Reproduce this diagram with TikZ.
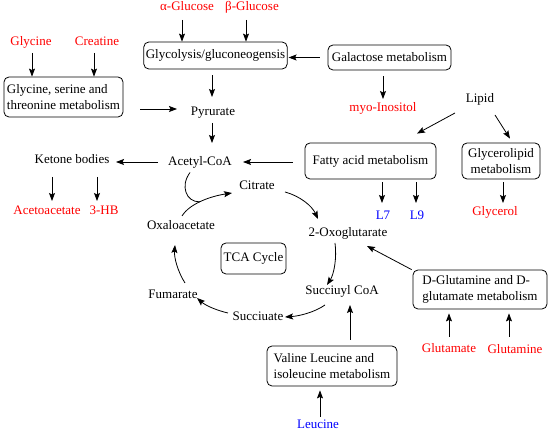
\documentclass[tikz,border=0pt]{standalone}
\usepackage{fontspec}
\setmainfont{Liberation Serif}
\usetikzlibrary{arrows.meta}
\definecolor{tred}{RGB}{255,0,0}
\definecolor{tblue}{RGB}{0,0,255}
\tikzset{
 arr/.style={-{Stealth[length=8pt,width=6pt,inset=1.5pt]},line width=0.8pt},
 lbl/.style={inner sep=0pt,text height=9pt,text depth=3pt,font=\fontsize{13}{15.5}\selectfont},
 redlbl/.style={lbl,text=tred},
 bluelbl/.style={lbl,text=tblue},
 pbox/.style={draw,line width=0.8pt,rounded corners=5pt,inner sep=2pt,font=\fontsize{13}{15.5}\selectfont},
}
\begin{document}
\begin{tikzpicture}[x=1pt,y=-1pt]
\useasboundingbox (0,0) rectangle (550,435);
% labels
\node[redlbl] (aglu) at (187,8) {α-Glucose};
\node[redlbl] (bglu) at (252,8) {β-Glucose};
\node[redlbl] (glyc) at (31,43) {Glycine};
\node[redlbl] (crea) at (97,43) {Creatine};
\node[lbl] (pyr) at (213,113) {Pyrurate};
\node[redlbl] (myo) at (383,109) {myo-Inositol};
\node[lbl] (lipid) at (480,100) {Lipid};
\node[lbl] (acoa) at (200,162.5) {Acetyl-CoA};
\node[lbl] (ketone) at (72,161) {Ketone bodies};
\node[redlbl] (aceto) at (47,212) {Acetoacetate};
\node[redlbl] (hb) at (104,212) {3-HB};
\node[bluelbl] (L7) at (383,217) {L7};
\node[bluelbl] (L9) at (417,217) {L9};
\node[redlbl] (glycerol) at (495,213) {Glycerol};
\node[lbl] (citrate) at (257,187) {Citrate};
\node[lbl] (oxo) at (348,234) {2-Oxoglutarate};
\node[lbl] (oxa) at (181,227) {Oxaloacetate};
\node[lbl] (fum) at (173,296) {Fumarate};
\node[lbl] (suca) at (342,292) {Succiuyl CoA};
\node[lbl] (succ) at (258,318) {Succiuate};
\node[redlbl] (glutamate) at (449,350) {Glutamate};
\node[redlbl] (glutamine) at (515,351) {Glutamine};
\node[bluelbl] (leu) at (318,426) {Leucine};
% boxes
\node[pbox,minimum width=143pt,minimum height=27pt] (gly) at (215.5,55.5) {Glycolysis/gluconeogensis};
\node[pbox,minimum width=123pt,minimum height=25pt] (gal) at (389.5,57.5) {Galactose metabolism};
\node[pbox,minimum width=119pt,minimum height=40pt,align=left] (gsbox) at (63.5,97) {Glycine, serine and\\threonine metabolism};
\node[pbox,minimum width=131pt,minimum height=36pt] (fatty) at (370.5,161) {Fatty acid metabolism};
\node[pbox,minimum width=78pt,minimum height=36pt,align=center] (glp) at (501,161) {Glycerolipid\\metabolism};
\node[pbox,minimum width=65pt,minimum height=31pt] (tca) at (253.5,258.5) {TCA Cycle};
\node[pbox,minimum width=134pt,minimum height=39pt,align=left] (dglu) at (480,289.5) {D-Glutamine and D-\\glutamate metabolism};
\node[pbox,minimum width=130pt,minimum height=40pt,align=left] (val) at (332,366) {Valine Leucine and\\isoleucine metabolism};
% straight arrows
\draw[arr] ([shift={(-5,12)}]aglu.center) -- ([shift={(-33.5,0)}]gly.north);
\draw[arr] ([shift={(-6,12)}]bglu.center) -- ([shift={(30.5,0)}]gly.north);
\draw[arr] ([shift={(1,10)}]glyc.center) -- ([shift={(-31.5,0)}]gsbox.north);
\draw[arr] ([shift={(-3,10)}]crea.center) -- ([shift={(30.5,0)}]gsbox.north);
\draw[arr] ([shift={(17,12)}]gsbox.east) -- ([shift={(-36,-4)}]pyr.center);
\draw[arr] ([shift={(-3.5,6)}]gly.south) -- ([shift={(-1,-16)}]pyr.center);
\draw[arr] ([shift={(-1,10)}]pyr.center) -- ([shift={(12,-19.5)}]acoa.center);
\draw[arr] ([shift={(-42,-0.5)}]acoa.center) -- ([shift={(44,1)}]ketone.center);
\draw[arr] ([shift={(-12,1)}]fatty.west) -- ([shift={(43,-0.5)}]acoa.center);
\draw[arr] ([shift={(-20,16)}]ketone.center) -- ([shift={(5,-11)}]aceto.center);
\draw[arr] ([shift={(25,16)}]ketone.center) -- ([shift={(-7,-11)}]hb.center);
\draw[arr] ([shift={(-8,0)}]gal.west) -- ([shift={(1,2)}]gly.east);
\draw[arr] ([shift={(-6.5,6)}]gal.south) -- ([shift={(0,-10)}]myo.center);
\draw[arr] ([shift={(-25,13)}]lipid.center) -- ([shift={(46.5,-9)}]fatty.north);
\draw[arr] ([shift={(15,15)}]lipid.center) -- ([shift={(9,-4)}]glp.north);
\draw[arr] ([shift={(11.5,3)}]fatty.south) -- ([shift={(-1,-14)}]L7.center);
\draw[arr] ([shift={(45.5,3)}]fatty.south) -- ([shift={(-1,-14)}]L9.center);
\draw[arr] ([shift={(2,3)}]glp.south) -- ([shift={(8,-10)}]glycerol.center);
\draw[arr] ([shift={(-1,0)}]dglu.north west) -- ([shift={(19,12)}]oxo.center);
\draw[arr] ([shift={(0,-13)}]glutamate.center) -- ([shift={(-31,4)}]dglu.south);
\draw[arr] ([shift={(-6,-14)}]glutamine.center) -- ([shift={(29,4)}]dglu.south);
\draw[arr] ([shift={(18,-6)}]val.north) -- ([shift={(8,13)}]suca.center);
\draw[arr] ([shift={(2,-9)}]leu.center) -- ([shift={(-12,4)}]val.south);
% TCA cycle curves
\draw[arr] ([shift={(1,-11)}]oxa.center) .. controls (190,203) and (212,196) .. coordinate[pos=0.45] (j) ([shift={(-25,6)}]citrate.center);
\draw[line width=0.8pt] ([shift={(-10,10)}]acoa.center) .. controls (180,186) and (186,202) .. (j);
\draw[arr] ([shift={(28,5)}]citrate.center) .. controls (300,196) and (312,206) .. ([shift={(-30,-15)}]oxo.center);
\draw[arr] ([shift={(-13,9)}]oxo.center) .. controls (337,258) and (334,274) .. ([shift={(-15,-7)}]suca.center);
\draw[arr] ([shift={(-17,13)}]suca.center) .. controls (315,312) and (300,316) .. ([shift={(27,-1)}]succ.center);
\draw[arr] ([shift={(-30,-5)}]succ.center) .. controls (215,310) and (205,305) .. ([shift={(24,2)}]fum.center);
\draw[arr] ([shift={(12,-13)}]fum.center) .. controls (178,272) and (174,258) .. ([shift={(-6,18)}]oxa.center);
\end{tikzpicture}
\end{document}
